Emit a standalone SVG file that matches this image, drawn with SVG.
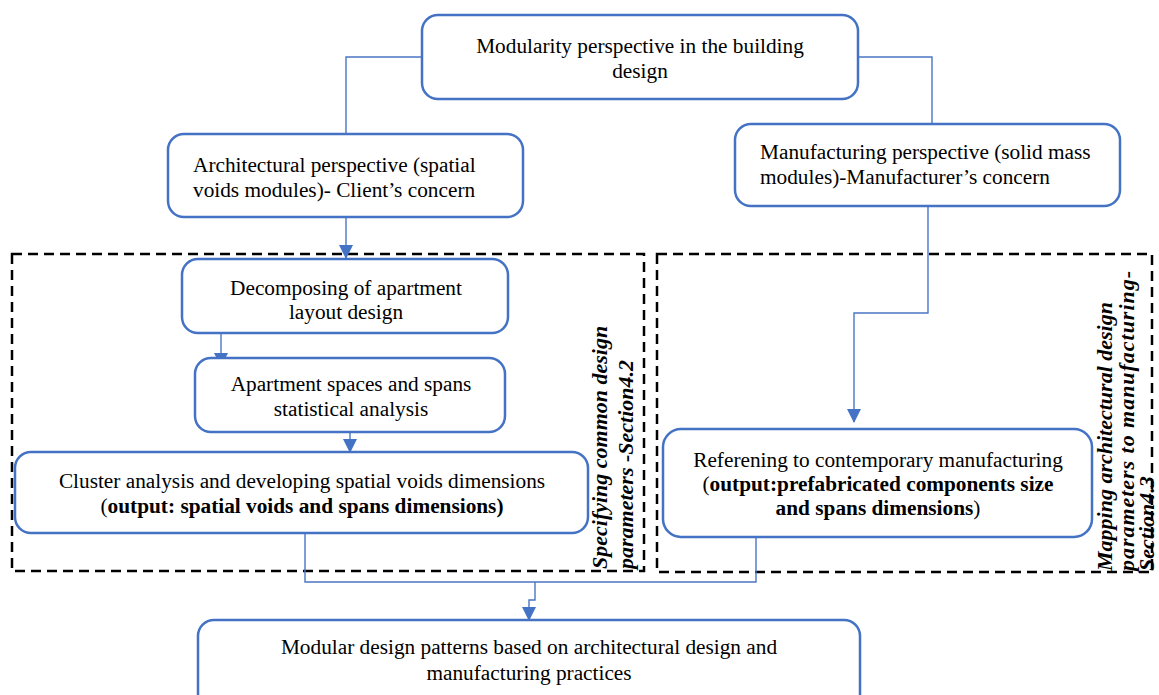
<svg xmlns="http://www.w3.org/2000/svg" width="1159" height="695" viewBox="0 0 1159 695">
  <defs>
    <marker id="arrow" markerWidth="14" markerHeight="14" refX="7" refY="13" orient="0" markerUnits="userSpaceOnUse" viewBox="0 0 14 14">
      <path d="M0,0 L14,0 L7,14 Z" fill="#4472C4"/>
    </marker>
    <style>
      .box { fill: #ffffff; stroke: #4472C4; stroke-width: 2.5; }
      .frame { fill: none; stroke: #000000; stroke-width: 2.5; stroke-dasharray: 10 6; }
      .link { fill: none; stroke: #4a76c6; stroke-width: 1.4; }
      .t { font-family: "Liberation Serif", "Times New Roman", serif; font-size: 21.3px; fill: #000000; }
      .c { text-anchor: middle; }
      .b { font-weight: bold; }
      .side { font-family: "Liberation Serif", "Times New Roman", serif; font-size: 22px; font-weight: bold; font-style: italic; fill: #000000; }
    </style>
  </defs>
  <rect width="1159" height="695" fill="#ffffff"/>

  <!-- dashed grouping frames -->
  <g id="frame-common">
    <rect class="frame" x="12" y="254" width="632" height="317"/>
    <text class="side" transform="translate(607,569) rotate(-90)">Specifying common design</text>
    <text class="side" transform="translate(633,569) rotate(-90)">parameters -Section4.2</text>
  </g>
  <g id="frame-mapping">
    <rect class="frame" x="657" y="254" width="495" height="318"/>
    <text class="side" transform="translate(1112,571) rotate(-90)">Mapping architectural design</text>
    <text class="side" transform="translate(1134,571) rotate(-90)" textLength="300" lengthAdjust="spacing">parameters to manufacturing-</text>
    <text class="side" transform="translate(1154,571) rotate(-90)">Section4.3</text>
  </g>

  <!-- connectors -->
  <g id="connectors">
    <path class="link" d="M422,57 H346 V135"/>
    <path class="link" d="M858,57 H932 V124"/>
    <path class="link" d="M346,217 V258" marker-end="url(#arrow)"/>
    <path class="link" d="M928,206 V313 H854 V422" marker-end="url(#arrow)"/>
    <path class="link" d="M221,326 V366" marker-end="url(#arrow)"/>
    <path class="link" d="M350,432 V452" marker-end="url(#arrow)"/>
    <path class="link" d="M305,533 V582 H756 V537"/>
    <path class="link" d="M535,582 V600 H529 V620" marker-end="url(#arrow)"/>
  </g>

  <g id="modularity">
    <rect class="box" x="422" y="15" width="436" height="84" rx="16"/>
    <text class="t c" x="640" y="53">Modularity perspective in the building</text>
    <text class="t c" x="640" y="78">design</text>
  </g>

  <g id="architectural">
    <rect class="box" x="168" y="134" width="355" height="83" rx="16"/>
    <text class="t" x="193" y="172">Architectural perspective (spatial</text>
    <text class="t" x="193" y="197">voids modules)- Client’s concern</text>
  </g>

  <g id="manufacturing">
    <rect class="box" x="735" y="124" width="385" height="82" rx="16"/>
    <text class="t" x="760" y="159">Manufacturing perspective (solid mass</text>
    <text class="t" x="760" y="184">modules)-Manufacturer’s concern</text>
  </g>

  <g id="decomposing">
    <rect class="box" x="182" y="259" width="326" height="74" rx="16"/>
    <text class="t c" x="346" y="295">Decomposing of apartment</text>
    <text class="t c" x="346" y="319">layout design</text>
  </g>

  <g id="statistics">
    <rect class="box" x="195" y="358" width="310" height="74" rx="16"/>
    <text class="t c" x="351" y="391">Apartment spaces and spans</text>
    <text class="t c" x="351" y="416">statistical analysis</text>
  </g>

  <g id="cluster">
    <rect class="box" x="15" y="452" width="573" height="81" rx="16"/>
    <text class="t c" x="302" y="488">Cluster analysis and developing spatial voids dimensions</text>
    <text class="t c" x="302" y="513">(<tspan class="b">output: spatial voids and spans dimensions)</tspan></text>
  </g>

  <g id="referencing">
    <rect class="box" x="663" y="429" width="429" height="108" rx="18"/>
    <text class="t c" x="878" y="467">Referening to contemporary manufacturing</text>
    <text class="t c" x="878" y="491">(<tspan class="b">output:prefabricated components size</tspan></text>
    <text class="t c" x="878" y="515"><tspan class="b">and spans dimensions</tspan>)</text>
  </g>

  <g id="patterns">
    <rect class="box" x="198" y="620" width="662" height="90" rx="16"/>
    <text class="t c" x="529" y="654">Modular design patterns based on architectural design and</text>
    <text class="t c" x="529" y="680">manufacturing practices</text>
  </g>
</svg>
